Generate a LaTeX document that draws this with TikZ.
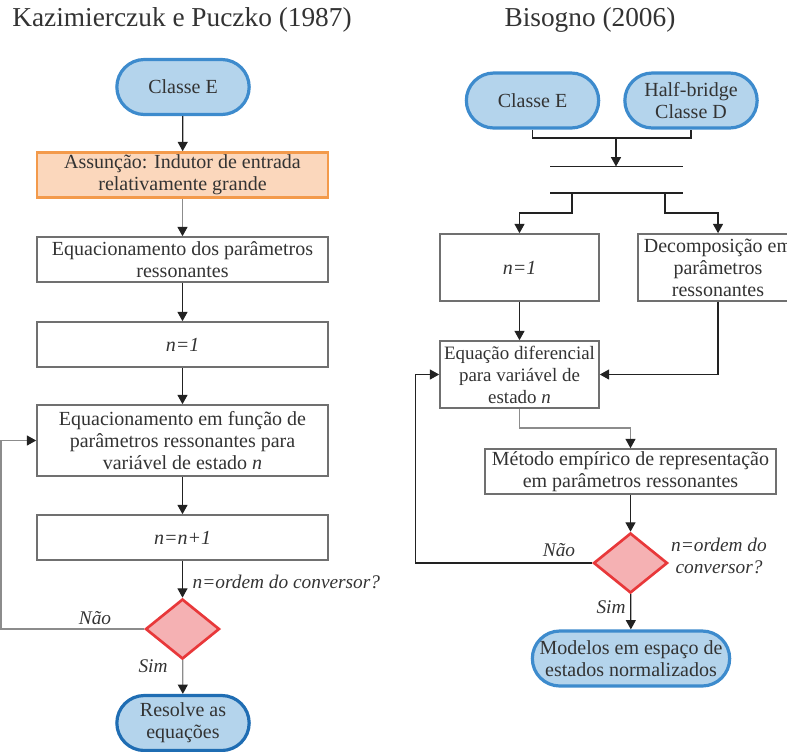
\documentclass[tikz,border=0pt]{standalone}
\usepackage{fontspec}
\setmainfont{Liberation Serif}
\usetikzlibrary{arrows.meta,shapes.geometric,shapes.misc}

\definecolor{termfill}{HTML}{B4D4EC}
\definecolor{termedge}{HTML}{3D8BCD}
\definecolor{termdark}{HTML}{1F6DB3}
\definecolor{asfill}{HTML}{FBD7BC}
\definecolor{asedge}{HTML}{F39A4B}
\definecolor{decfill}{HTML}{F5B1B3}
\definecolor{decedge}{HTML}{E8383A}
\definecolor{boxedge}{HTML}{707070}
\definecolor{wire}{HTML}{222222}
\definecolor{wirelight}{HTML}{8C8C8C}
\definecolor{ink}{HTML}{333333}

\begin{document}
\begin{tikzpicture}[x=0.75pt,y=-0.75pt,
  font=\fontsize{15}{16.5}\selectfont, text=ink,
  title/.style={font=\fontsize{20.5}{24}\selectfont},
  term/.style={rounded rectangle, draw=termedge, fill=termfill, line width=2.4pt,
    minimum width={135*0.75pt}, minimum height={55*0.75pt}, inner sep=1pt, align=center},
  stepbox/.style={rectangle, draw=boxedge, fill=white, line width=1.2pt,
    minimum width={291*0.75pt}, minimum height={45*0.75pt}, inner sep=1pt, align=center},
  assume/.style={stepbox, draw=asedge, fill=asfill, line width=2pt},
  decision/.style={diamond, draw=decedge, fill=decfill, line width=2pt, inner sep=0pt,
    minimum width={74*0.75pt}, minimum height={60*0.75pt}, aspect=1.23},
  lbl/.style={font=\fontsize{14.5}{16.5}\selectfont\itshape, align=center},
  arr/.style={draw=wire, line width=0.9pt, -{Triangle[width=7.5pt,length=7pt,color=wire]}},
  arrl/.style={draw=wirelight, line width=0.9pt, -{Triangle[width=7.5pt,length=7pt,color=wire]}},
  wireline/.style={draw=wire, line width=0.9pt},
  barline/.style={draw=wire, line width=1pt},
]
\useasboundingbox (0,0) rectangle (787,751);

% ---------------- left flow ----------------
\node[title] (tl) at (182,20) {Kazimierczuk e Puczko (1987)};

\node[term] (lE) at (183,87) {Classe E};
\node[assume] (lA) at (182.5,175) {Assunção: Indutor de entrada\\relativamente grande};
\node[stepbox] (lB) at (182.5,259.5) {Equacionamento dos parâmetros\\ressonantes};
\node[stepbox] (lC) at (182.5,344.5) {\textit{n=1}};
\node[stepbox, minimum height={71*0.75pt}] (lD) at (182.5,440.5)
  {Equacionamento em função de\\parâmetros ressonantes para\\variável de estado \textit{n}};
\node[stepbox] (lF) at (182.5,537.5) {\textit{n=n+1}};
\node[decision] (lQ) at (182.5,629) {};
\node[term, draw=termdark] (lR) at (183,723) {Resolve as\\equações};

\node[lbl, anchor=west] (lQt) at (188,582) {n=ordem do conversor?};
\node[lbl] (lNo) at (95,618) {Não};
\node[lbl] (lYes) at (153,666) {Sim};

\draw[arr] (lE) -- (lA);
\draw[arrl] (lA) -- (lB);
\draw[arr] (lB) -- (lC);
\draw[arr] (lC) -- (lD);
\draw[arr] (lD) -- (lF);
\draw[arr] (lF) -- (lQ);
\draw[arrl] (lQ) -- (lR);
\coordinate (lLoop) at (1,629);
\draw[arrl] (lQ.west) -- (lLoop) |- (lD.west);

% ---------------- right flow ----------------
\node[title] (tr) at (590,20) {Bisogno (2006)};

\node[term] (rE) at (532.5,100.5) {Classe E};
\node[term] (rH) at (691,100.5) {Half-bridge\\Classe D};

% join / fork bars
\coordinate (b1l) at (550,166.5);
\coordinate (b1r) at (683,166.5);
\coordinate (b2l) at (550,193);
\coordinate (b2r) at (683,193);
\draw[barline] (b1l) -- (b1r);
\draw[barline] (b2l) -- (b2r);

\coordinate (jn) at (616,138);
\coordinate (jnbar) at (616,166.5);
\draw[wireline] (rE.south) |- (jn) -| (rH.south);
\draw[arr] (jn) -- (jnbar);

\node[stepbox, minimum width={159*0.75pt}, minimum height={67*0.75pt}] (rN) at (519.5,267.5) {\textit{n=1}};
\node[stepbox, minimum width={160*0.75pt}, minimum height={67*0.75pt}] (rDe) at (718,267.5)
  {Decomposição em\\parâmetros\\ressonantes};
\node[stepbox, minimum width={159*0.75pt}, minimum height={67*0.75pt},
  font=\fontsize{14.2}{16.5}\selectfont] (rEq) at (519.5,374.5)
  {Equação diferencial\\para variável de\\estado \textit{n}};
\node[stepbox, minimum width={291*0.75pt}] (rM) at (630.5,471.5)
  {Método empírico de representação\\em parâmetros ressonantes};
\node[decision] (rQ) at (630.5,563) {};
\node[term, minimum width={200*0.75pt}] (rS) at (631,658.5)
  {Modelos em espaço de\\estados normalizados};

\node[lbl] (rQt) at (719,556) {n=ordem do\\conversor?};
\node[lbl] (rNo) at (559,550) {Não};
\node[lbl] (rYes) at (611,607) {Sim};

\coordinate (fkL) at (572,193);
\coordinate (fkR) at (665,193);
\coordinate (fkLm) at (572,213);
\coordinate (fkRm) at (665,213);
\draw[arr] (fkL) -- (fkLm) -| (rN.north);
\draw[arr] (fkR) -- (fkRm) -| (rDe.north);

\draw[arr] (rN) -- (rEq);
\draw[arr] (rDe.south) |- (rEq.east);
\coordinate (eqm) at (519.5,428);
\draw[arrl] (rEq.south) -- (eqm) -| (rM.north);
\draw[arr] (rM) -- (rQ);
\draw[arr] (rQ) -- (rS);
\coordinate (rLoop) at (415.5,563);
\draw[arr] (rQ.west) -- (rLoop) |- (rEq.west);
\end{tikzpicture}
\end{document}
